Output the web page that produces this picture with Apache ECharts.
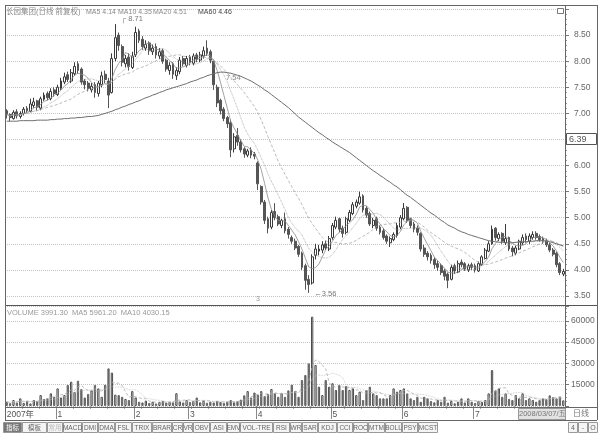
<!DOCTYPE html>
<html><head><meta charset="utf-8">
<script src="https://cdn.jsdelivr.net/npm/echarts/dist/echarts.min.js"></script>
<style>html,body{margin:0;padding:0;background:#fff}#c{width:605px;height:436px}</style>
</head><body><div id="c"></div>
<script>
const opens=[7.05,6.98,6.90,7.03,6.94,7.00,7.10,7.04,7.15,7.24,
7.10,7.27,7.38,7.28,7.45,7.36,7.48,7.60,7.74,7.62,
7.76,7.95,7.85,7.62,7.58,7.45,7.55,7.38,7.55,7.75,
7.62,7.40,8.05,8.50,8.28,7.95,8.08,7.88,8.12,8.58,
8.42,8.25,8.35,8.18,8.28,8.10,8.20,8.02,7.82,7.95,
7.72,7.80,8.05,7.92,8.08,7.96,8.12,8.02,8.10,8.25,
8.18,8.00,7.50,7.25,7.08,6.92,6.82,6.32,6.58,6.45,
6.32,6.20,6.30,6.22,6.05,5.60,5.30,4.98,4.82,5.12,
5.02,4.85,4.98,4.78,4.62,4.55,4.45,4.32,4.08,3.82,
3.75,4.28,4.36,4.38,4.50,4.40,4.62,4.82,4.98,4.80,
4.72,4.95,5.08,5.22,5.28,5.42,5.18,5.08,4.85,4.98,
4.82,4.75,4.65,4.52,4.58,4.66,4.82,4.98,5.20,4.98,
4.88,4.80,4.70,4.42,4.32,4.28,4.20,4.12,4.08,3.98,
3.92,3.82,4.08,3.96,4.15,4.12,4.00,4.10,4.08,3.98,
4.10,4.22,4.36,4.50,4.80,4.60,4.70,4.52,4.62,4.42,
4.32,4.40,4.52,4.65,4.55,4.62,4.70,4.64,4.60,4.56,
4.48,4.38,4.32,4.12,3.92];
const closes=[6.98,6.92,7.02,6.95,7.00,7.08,7.05,7.18,7.22,7.12,
7.28,7.35,7.30,7.42,7.38,7.50,7.62,7.70,7.65,7.78,
7.90,7.82,7.60,7.55,7.48,7.52,7.40,7.58,7.72,7.65,
7.35,8.05,8.45,8.30,7.98,8.05,7.90,8.10,8.55,8.40,
8.28,8.32,8.20,8.25,8.12,8.18,8.00,7.85,7.92,7.75,
7.82,8.02,7.95,8.05,7.98,8.10,8.04,8.12,8.20,8.15,
8.02,7.55,7.20,7.05,6.90,6.80,6.30,6.55,6.45,6.30,
6.22,6.28,6.20,6.18,5.65,5.30,4.95,4.80,5.10,5.00,
4.88,4.95,4.75,4.68,4.55,4.42,4.30,4.05,3.80,3.72,
4.25,4.40,4.40,4.48,4.42,4.60,4.85,4.95,4.78,4.70,
4.98,5.10,5.25,5.30,5.40,5.15,5.05,4.88,4.95,4.80,
4.72,4.62,4.55,4.60,4.68,4.85,5.00,5.18,4.95,4.85,
4.78,4.72,4.40,4.30,4.25,4.18,4.10,4.05,3.95,3.88,
3.80,4.05,3.98,4.12,4.10,4.02,4.08,4.05,4.00,4.12,
4.25,4.38,4.50,4.78,4.62,4.68,4.55,4.60,4.40,4.35,
4.42,4.55,4.62,4.58,4.65,4.68,4.62,4.58,4.55,4.48,
4.38,4.30,4.10,3.95,3.97];
const lows=[6.90,6.85,6.88,6.90,6.90,6.96,7.00,7.02,7.10,7.05,
7.06,7.24,7.25,7.25,7.32,7.33,7.45,7.56,7.60,7.58,
7.72,7.76,7.55,7.46,7.42,7.40,7.30,7.32,7.50,7.58,
7.10,7.38,8.00,8.20,7.90,7.88,7.82,7.85,8.08,8.35,
8.22,8.20,8.12,8.12,8.05,8.04,7.95,7.80,7.74,7.66,
7.64,7.75,7.90,7.88,7.92,7.92,7.98,7.98,8.05,8.10,
7.96,7.45,7.12,6.98,6.85,6.72,6.16,6.25,6.38,6.25,
6.15,6.16,6.14,6.12,5.53,5.25,4.88,4.70,4.78,4.95,
4.84,4.80,4.70,4.60,4.50,4.38,4.25,4.00,3.62,3.56,
3.72,4.20,4.28,4.32,4.38,4.36,4.58,4.78,4.72,4.62,
4.68,4.92,5.05,5.18,5.25,5.10,5.00,4.84,4.80,4.75,
4.68,4.58,4.50,4.44,4.55,4.62,4.78,4.95,4.90,4.80,
4.72,4.66,4.35,4.25,4.18,4.12,4.02,3.98,3.90,3.80,
3.65,3.80,3.92,3.94,4.05,3.98,3.96,4.00,3.95,3.96,
4.08,4.20,4.34,4.48,4.56,4.55,4.50,4.48,4.36,4.26,
4.28,4.38,4.48,4.52,4.50,4.58,4.58,4.54,4.50,4.44,
4.34,4.26,4.05,3.90,3.88];
const highs=[7.08,7.00,7.06,7.08,7.04,7.12,7.14,7.28,7.30,7.26,
7.32,7.40,7.42,7.48,7.50,7.55,7.68,7.78,7.80,7.85,
7.98,8.00,7.88,7.66,7.62,7.58,7.60,7.62,7.80,7.82,
7.68,8.15,8.71,8.55,8.32,8.12,8.15,8.18,8.66,8.62,
8.48,8.40,8.38,8.32,8.34,8.25,8.24,8.05,7.98,7.98,
7.88,8.08,8.10,8.10,8.12,8.15,8.16,8.18,8.28,8.40,
8.22,8.03,7.55,7.28,7.12,6.95,6.88,6.62,6.72,6.50,
6.35,6.32,6.35,6.26,6.08,5.62,5.34,5.02,5.15,5.28,
5.06,4.98,5.10,4.82,4.66,4.60,4.48,4.35,4.12,3.90,
4.30,4.50,4.48,4.55,4.56,4.65,4.90,5.02,5.00,4.85,
5.02,5.15,5.30,5.35,5.50,5.45,5.22,5.12,5.00,5.02,
4.86,4.80,4.68,4.64,4.72,4.90,5.05,5.28,5.22,5.00,
4.92,4.85,4.72,4.48,4.36,4.32,4.24,4.18,4.12,4.02,
3.95,4.10,4.12,4.18,4.20,4.15,4.12,4.14,4.12,4.16,
4.28,4.42,4.55,4.85,4.82,4.72,4.72,4.88,4.64,4.46,
4.46,4.58,4.68,4.70,4.70,4.74,4.74,4.68,4.64,4.60,
4.52,4.42,4.35,4.15,4.02];
const ma60=[6.85,6.85,6.85,6.85,6.86,6.86,6.86,6.86,6.86,6.87,6.87,6.87,6.87,
6.88,6.88,6.89,6.89,6.90,6.90,6.91,6.91,6.92,6.92,6.93,6.94,6.94,6.95,6.96,
6.98,7.00,7.02,7.04,7.07,7.09,7.12,7.14,7.17,7.19,7.22,7.24,
7.27,7.30,7.32,7.35,7.37,7.40,7.42,7.45,
7.47,7.49,7.51,7.53,7.55,7.57,
7.60,7.62,7.64,7.67,7.69,7.72,
7.74,7.76,7.78,7.79,7.79,7.78,7.77,7.75,
7.73,7.71,7.68,7.65,7.62,7.58,7.54,7.50,7.45,
7.41,7.36,7.31,7.26,7.21,7.16,7.11,7.05,6.99,6.93,
6.88,6.83,6.78,6.73,6.68,6.63,6.59,6.54,6.50,6.45,
6.41,6.37,6.33,6.29,6.25,6.20,6.15,6.10,6.05,6.00,5.95,
5.90,5.86,5.81,5.77,5.72,5.68,5.63,5.59,
5.54,5.48,5.43,5.39,5.34,5.29,5.24,5.19,5.14,
5.09,5.05,5.00,4.95,4.91,4.86,4.83,4.80,4.76,4.73,
4.71,4.68,4.66,4.64,4.62,4.60,4.58,4.56,4.55,4.54,
4.53,4.53,4.52,4.52,4.52,4.53,4.53,4.54,4.54,4.55,
4.55,4.56,4.56,4.56,4.55,4.54,4.52,4.50,4.48,4.46];
const volumes=[3000,2000,4200,2500,5400,2200,3500,1800,4200,3600,
7700,4900,5400,8900,6500,12400,6000,7700,14800,17100,
9900,17800,12000,6000,8500,11000,14800,12400,6500,15000,
26500,23500,8000,7700,6500,5000,4200,10500,6000,3000,
2500,3800,2200,3000,1800,2800,3500,2400,3000,2600,
9000,3200,2500,4200,2800,3500,6000,2600,3800,2300,
3000,2500,3600,2800,2200,3000,4200,2600,3500,4500,
7500,10500,6000,9500,8000,10500,7000,8500,12000,9000,
6500,9000,6500,11000,15000,10500,6500,18300,21800,30000,
62900,28900,13600,7700,18300,13600,16000,11300,14800,11300,
14000,11300,12400,7700,10100,4200,11300,13600,8900,7700,
5400,5400,5400,7700,12400,10100,11300,12400,8900,5400,
4200,6500,3000,6500,5400,3500,2600,4200,3000,6500,
2400,3600,1900,3000,5400,2500,5400,3000,2200,3600,
2800,4200,8900,25300,11000,12400,6500,8900,5000,4200,
7700,5400,8900,4200,5400,4200,3000,4200,5400,4800,
7500,6200,5400,6715,3991];
const monthStarts=[0,15,38,54,74,96,117,138];
const monthNames=['2007年','1','2','3','4','5','6','7'];
const priceTitle=['长园集团(日线 前复权)','MA5 4.14','MA10 4.35','MA20 4.51','MA60 4.46'];
const volTitle='VOLUME 3991.30  MA5 5961.20  MA10 4030.15';
const toolbarNames=['指标','模板','常用','MACD','DMI','DMA','FSL','TRIX','BRAR','CR','VR','OBV','ASI','EMV','VOL-TRE','RSI','WR','SAR','KDJ','CCI','ROC','MTM','BOLL','PSY','MCST'];
const cursorDate='2008/03/07/五';
const cursorPrice='6.39';

const FONT="'Liberation Sans','Noto Sans CJK SC',sans-serif";
const cats=closes.map((_,i)=>String(i));
const candle=opens.map((o,i)=>[o,closes[i],lows[i],highs[i]]);
function ma(a,n){return a.map((_,i)=>{const s=Math.max(0,i-n+1);let t=0;for(let j=s;j<=i;j++)t+=a[j];return +(t/(i-s+1)).toFixed(3);});}
const volData=volumes.map((v,i)=>({value:v,itemStyle:closes[i]>=opens[i]?{color:'#fff',borderColor:'#4a4a4a',borderWidth:1}:{color:'#666',borderColor:'#666',borderWidth:1}}));

const chart=echarts.init(document.getElementById('c'));
const gfx=[];
function hline(y,x1,x2,c,w){gfx.push({type:'line',shape:{x1:x1,y1:y,x2:x2,y2:y},style:{stroke:c||'#666',lineWidth:w||1},z:50});}
function vline(x,y1,y2,c,w){gfx.push({type:'line',shape:{x1:x,y1:y1,x2:x,y2:y2},style:{stroke:c||'#666',lineWidth:w||1},z:50});}
hline(5.5,5,597);hline(305.5,5,597,'#555',1.2);hline(407.5,5,597);hline(420.5,5,597);
vline(5.5,5,420);vline(565.5,5,420);vline(597.5,5,420);
// title
const tx=[6,86,118,153,198];
priceTitle.forEach((t,i)=>gfx.push({type:'text',left:tx[i],top:i===0?8:9,style:{text:t,fontSize:i===0?7.5:7,fill:i===4?'#444':'#8a8a8a',fontFamily:FONT},z:60}));
gfx.push({type:'text',left:7,top:309,style:{text:volTitle,fontSize:7.5,fill:'#999',fontFamily:FONT},z:60});
// icon
gfx.push({type:'rect',shape:{x:557.5,y:8.5,width:6,height:5},style:{fill:'#fff',stroke:'#777',lineWidth:1},z:60});
// cursor price box
gfx.push({type:'rect',shape:{x:566.5,y:133.5,width:30,height:11},style:{fill:'#fff',stroke:'#555',lineWidth:1},z:60});
gfx.push({type:'text',left:569,top:135,style:{text:cursorPrice,fontSize:9,fill:'#555',fontFamily:FONT},z:61});
// annotations
gfx.push({type:'text',left:226,top:74,style:{text:'7.54',fontSize:7.5,fill:'#888',fontFamily:FONT},z:60});
gfx.push({type:'text',left:256,top:296,style:{text:'3',fontSize:7,fill:'#999',fontFamily:FONT},z:60});
// date cursor
gfx.push({type:'rect',shape:{x:518.5,y:408.5,width:47,height:11},style:{fill:'#e2e2e2',stroke:'#999',lineWidth:1},z:60});
gfx.push({type:'text',left:519,top:410,style:{text:cursorDate,fontSize:7.5,fill:'#777',fontFamily:FONT},z:61});
gfx.push({type:'text',left:573,top:410,style:{text:'日线',fontSize:8,fill:'#777',fontFamily:FONT},z:61});
// toolbar
const tbStart=[3,22,47,63,82,98,115,132,152,172,183,193,210,227,240,273,290,302,318,337,353,368,385,402,418,438];
toolbarNames.forEach((t,i)=>{const x=tbStart[i],w=tbStart[i+1]-tbStart[i]-1;
 gfx.push({type:'rect',shape:{x:x+0.5,y:422.5,width:w,height:10},style:{fill:i===0?'#777':'#f4f4f4',stroke:'#999',lineWidth:1},z:60});
 gfx.push({type:'text',x:x+w/2+0.5,y:428,style:{text:t,fontSize:6.5,fill:i===0?'#fff':(i===2?'#bbb':'#666'),fontFamily:FONT,align:'center',verticalAlign:'middle'},z:61});});
[['4',568],['-',578],['O',588]].forEach(b=>{gfx.push({type:'rect',shape:{x:b[1]+0.5,y:422.5,width:9,height:10},style:{fill:'#f4f4f4',stroke:'#999',lineWidth:1},z:60});
 gfx.push({type:'text',x:b[1]+5,y:428,style:{text:b[0],fontSize:7,fill:'#666',fontFamily:FONT,align:'center',verticalAlign:'middle'},z:61});});

const lblStyle={fontSize:8.5,color:'#666',fontFamily:FONT};
chart.setOption({
 animation:false,backgroundColor:'#fff',
 textStyle:{fontFamily:FONT},
 grid:[{left:5,right:40,top:9,height:287},{left:5,right:40,top:306.6,height:99.4}],
 xAxis:[
  {type:'category',gridIndex:0,data:cats,boundaryGap:true,axisLine:{show:false},axisTick:{show:false},axisLabel:{show:false},splitLine:{show:false}},
  {type:'category',gridIndex:1,data:cats,boundaryGap:true,axisLine:{show:false},
   axisTick:{show:true,interval:(i)=>monthStarts.includes(i),length:13,lineStyle:{color:'#888'}},
   axisLabel:{show:true,interval:(i)=>monthStarts.includes(i),formatter:(v,i)=>monthNames[monthStarts.indexOf(i)]||'',align:'left',margin:4,fontSize:8.5,color:'#555',fontFamily:FONT},splitLine:{show:false}},
  {type:'category',gridIndex:1,data:cats,boundaryGap:true,position:'bottom',axisLine:{show:false},axisTick:{show:true,interval:4,length:3,lineStyle:{color:'#aaa'}},axisLabel:{show:false},splitLine:{show:false}}
 ],
 yAxis:[
  {type:'value',gridIndex:0,position:'right',min:3.5,max:9,interval:0.5,axisLine:{show:false},
   axisTick:{show:true,length:4,lineStyle:{color:'#777'}},minorTick:{show:true,splitNumber:5,length:2,lineStyle:{color:'#999'}},
   splitLine:{show:true,lineStyle:{color:'#c4c4c4',type:'dotted'}},
   axisLabel:Object.assign({margin:9,formatter:v=>(v>=9||Math.abs(v-6.5)<1e-6)?'':v.toFixed(2)},lblStyle)},
  {type:'value',gridIndex:1,position:'right',min:0,max:70000,interval:15000,axisLine:{show:false},
   axisTick:{show:true,length:4,lineStyle:{color:'#777'}},minorTick:{show:true,splitNumber:5,length:2,lineStyle:{color:'#999'}},
   splitLine:{show:true,lineStyle:{color:'#c4c4c4',type:'dotted'}},
   axisLabel:Object.assign({margin:6,formatter:v=>(v===0||v>60000)?'':String(v)},lblStyle)}
 ],
 series:[
  {type:'candlestick',xAxisIndex:0,yAxisIndex:0,data:candle,barWidth:'70%',
   itemStyle:{color:'#ffffff',color0:'#555555',borderColor:'#3a3a3a',borderColor0:'#555555',borderWidth:1},
   markPoint:{symbol:'circle',symbolSize:1,itemStyle:{color:'rgba(0,0,0,0)'},
    data:[{coord:['32',8.71],label:{show:true,formatter:'┌ 8.71',position:'right',offset:[0,-5],fontSize:7.5,color:'#777'}},
          {coord:['89',3.56],label:{show:true,formatter:'←3.56',position:'right',offset:[0,1],fontSize:7.5,color:'#777'}}]}},
  {type:'line',xAxisIndex:0,yAxisIndex:0,data:ma(closes,5),symbol:'none',lineStyle:{color:'#8a8a8a',width:0.8}},
  {type:'line',xAxisIndex:0,yAxisIndex:0,data:ma(closes,10),symbol:'none',lineStyle:{color:'#9a9a9a',width:0.8,type:'dotted'}},
  {type:'line',xAxisIndex:0,yAxisIndex:0,data:ma(closes,20),symbol:'none',lineStyle:{color:'#a8a8a8',width:0.8,type:[3,2]}},
  {type:'line',xAxisIndex:0,yAxisIndex:0,data:ma60,symbol:'none',lineStyle:{color:'#6e6e6e',width:1}},
  {type:'bar',xAxisIndex:1,yAxisIndex:1,data:volData,barWidth:'68%'},
  {type:'line',xAxisIndex:1,yAxisIndex:1,data:ma(volumes,5),symbol:'none',lineStyle:{color:'#aaa',width:0.8,type:[3,2]}},
  {type:'line',xAxisIndex:1,yAxisIndex:1,data:ma(volumes,10),symbol:'none',lineStyle:{color:'#c0c0c0',width:0.8,type:'dotted'}}
 ],
 graphic:gfx
});
</script></body></html>
